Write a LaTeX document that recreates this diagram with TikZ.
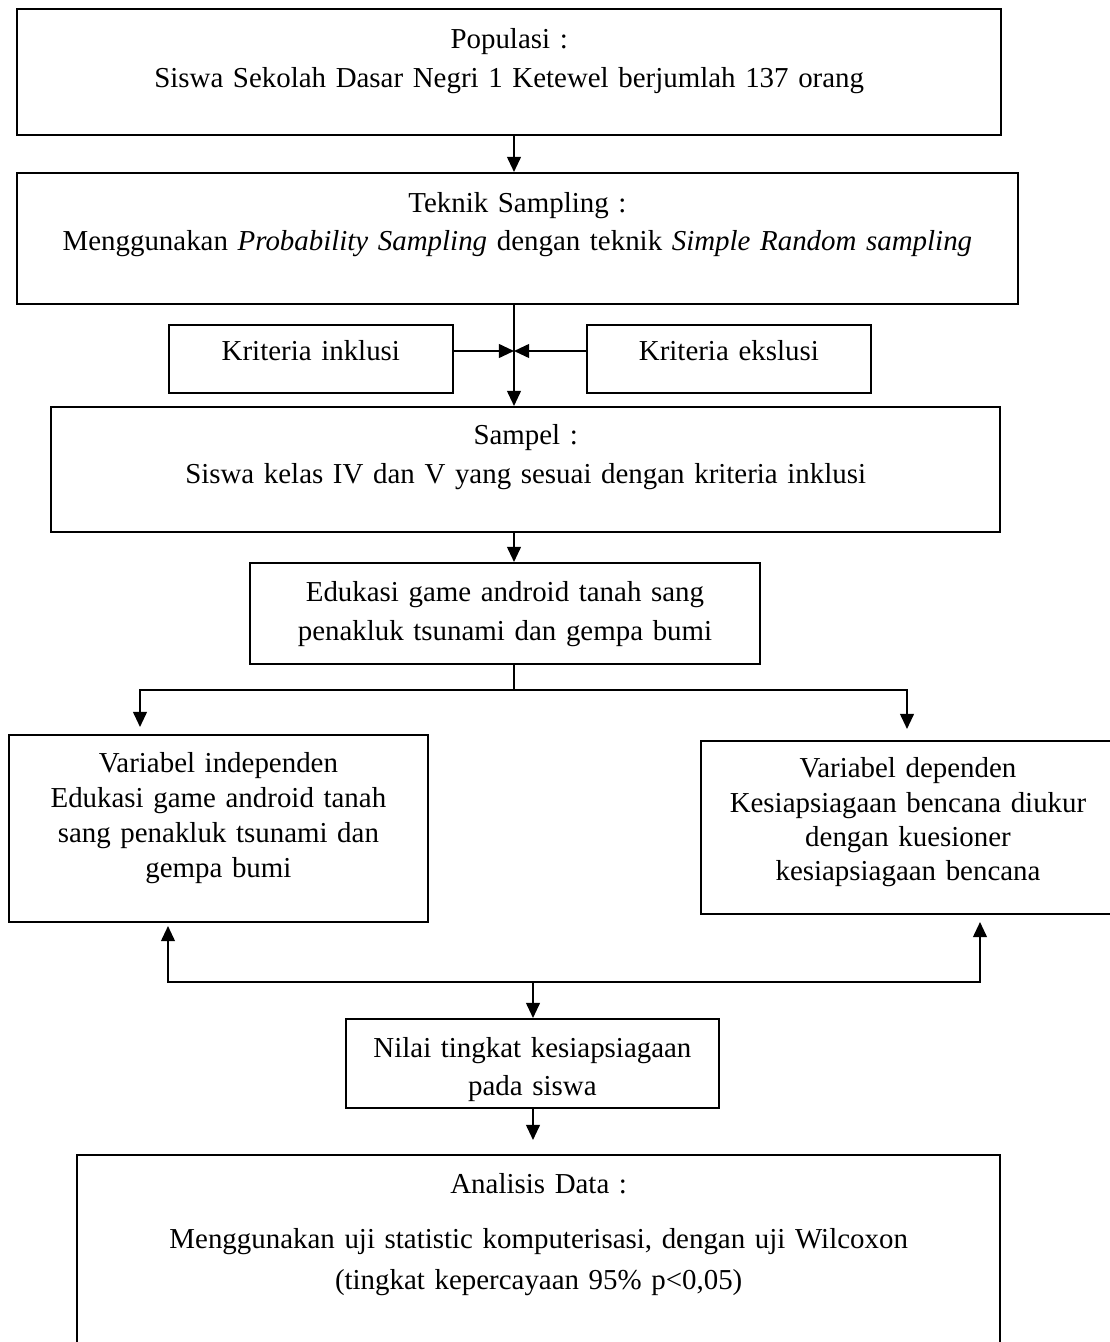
\documentclass[tikz,border=0pt]{standalone}
\usepackage{fontspec}
\setmainfont{Liberation Serif}
\usetikzlibrary{arrows.meta}

\begin{document}
\begin{tikzpicture}[
    x=0.01459cm, y=-0.01459cm,
    font=\fontsize{12}{15.8}\selectfont,
    box/.style={rectangle, draw, line width=0.8pt, anchor=north west,
                inner sep=0pt, align=center},
    arrow/.style={-{Triangle[length=0.22cm, width=0.2cm]}, line width=0.8pt},
]
    \clip (0,0) rectangle (1110,1342);

    \node[box, text width=14.36cm, text height=0.57cm, text depth=1.27cm,
          font=\fontsize{12}{16.2}\selectfont] (pop) at (16,8)
          {Populasi :\\Siswa Sekolah Dasar Negri 1 Ketewel berjumlah 137 orang};
    \node[box, text width=14.60cm, text height=0.57cm, text depth=1.34cm] (tek) at (16,172)
          {Teknik Sampling :\\Menggunakan \textit{Probability Sampling} dengan teknik \textit{Simple Random sampling}};
    \node[box, text width=4.14cm, text height=0.525cm, text depth=0.467cm] (inkl) at (168,324)
          {Kriteria inklusi};
    \node[box, text width=4.14cm, text height=0.525cm, text depth=0.467cm] (eksl) at (586,324)
          {Kriteria ekslusi};
    \node[box, text width=13.85cm, text height=0.554cm, text depth=1.27cm] (sampel) at (50,406)
          {Sampel :\\Siswa kelas IV dan V yang sesuai dengan kriteria inklusi};
    \node[box, text width=7.44cm, text height=0.569cm, text depth=0.905cm] (edu) at (249,562)
          {Edukasi game android tanah sang\\penakluk tsunami dan gempa bumi};
    \node[box, text width=6.11cm, text height=0.554cm, text depth=2.174cm,
          font=\fontsize{12}{14.4}\selectfont] (indep) at (8,734)
          {Variabel independen\\Edukasi game android tanah\\sang penakluk tsunami dan\\gempa bumi};
    \node[box, text width=6.04cm, text height=0.54cm, text depth=1.984cm,
          font=\fontsize{12}{14.2}\selectfont] (dep) at (700,740)
          {Variabel dependen\\Kesiapsiagaan bencana diukur\\dengan kuesioner\\kesiapsiagaan bencana};
    \node[box, text width=5.44cm, text height=0.569cm, text depth=0.73cm,
          font=\fontsize{12}{15.4}\selectfont] (nilai) at (345,1018)
          {Nilai tingkat kesiapsiagaan\\pada siswa};
    \node[box, text width=13.47cm, text height=0.569cm, text depth=2.44cm,
          font=\fontsize{12}{17}\selectfont] (anal) at (76,1154)
          {Analisis Data :\\[5.8pt]Menggunakan uji statistic komputerisasi, dengan uji Wilcoxon\\(tingkat kepercayaan 95\% p<0,05)};

    \coordinate (spine) at (514,0);
    \coordinate (meet) at (514,351);
    \coordinate (split) at (514,690);
    \coordinate (toindep) at (140,727);
    \coordinate (todep) at (907,729);
    \coordinate (merge) at (533,982);
    \coordinate (fromindep) at (168,926);
    \coordinate (fromdep) at (980,922);
    \coordinate (intoanal) at (533,1140);

    \draw[arrow] (pop.south -| spine) -- (tek.north -| spine);
    \draw[arrow] (tek.south -| spine) -- (sampel.north -| spine);
    \draw[arrow] (meet -| inkl.east) -- (meet);
    \draw[arrow] (meet -| eksl.west) -- (meet);
    \draw[arrow] (sampel.south -| spine) -- (edu.north -| spine);
    \draw[line width=0.8pt] (edu.south -| spine) -- (split);
    \draw[arrow] (split) -| (toindep);
    \draw[arrow] (split) -| (todep);
    \draw[arrow] (merge) -| (fromindep);
    \draw[arrow] (merge) -| (fromdep);
    \draw[arrow] (merge) -- (merge |- nilai.north);
    \draw[arrow] (nilai.south -| merge) -- (intoanal);
\end{tikzpicture}
\end{document}
